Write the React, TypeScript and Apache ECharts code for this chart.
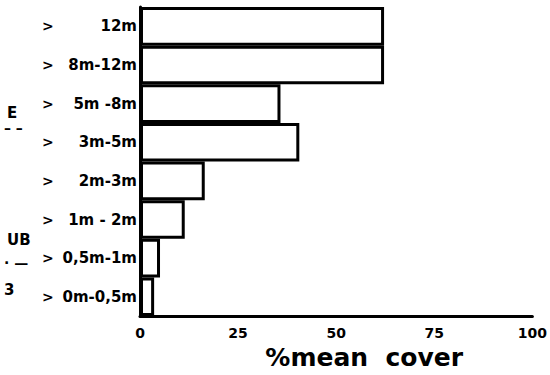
import React, { useEffect, useRef } from "react";
import * as echarts from "echarts";

const categories = ["0m-0,5m", "0,5m-1m", "1m - 2m", "2m-3m", "3m-5m", "5m -8m", "8m-12m", "12m"];
const meanCover = [3.6, 5.1, 11.4, 16.5, 40.6, 35.8, 62.2, 62.2];
const xTicks = [0, 25, 50, 75, 100];

export default function App() {
  const ref = useRef<HTMLDivElement>(null);
  useEffect(() => {
    if (!ref.current) return;
    const chart = echarts.init(ref.current, null, { renderer: "svg" });
    const font = "DejaVu Sans";
    chart.setOption({
      animation: false,
      backgroundColor: "#fff",
      grid: { left: 140, right: 16, top: 7, bottom: 56, containLabel: false },
      xAxis: {
        type: "value",
        min: xTicks[0],
        max: xTicks[xTicks.length - 1],
        interval: 25,
        axisLine: { show: true, lineStyle: { color: "#000", width: 3 } },
        axisTick: { show: false },
        splitLine: { show: false },
        axisLabel: { color: "#000", fontFamily: font, fontWeight: "bold", fontSize: 14, margin: 10 },
        name: "%mean  cover",
        nameLocation: "middle",
        nameGap: 23,
        nameTextStyle: { color: "#000", fontFamily: font, fontWeight: "bold", fontSize: 25, padding: [0, 0, 0, 56] },
      },
      yAxis: {
        type: "category",
        data: categories,
        axisLine: { show: true, lineStyle: { color: "#000", width: 3 } },
        axisTick: { show: false },
        axisLabel: {
          margin: 3,
          formatter: (v: string) => `{g|>}{t|${v}}`,
          rich: {
            g: { width: 12, align: "left", color: "#000", fontFamily: font, fontWeight: "bold", fontSize: 14 },
            t: { width: 83, align: "right", color: "#000", fontFamily: font, fontWeight: "bold", fontSize: 15 },
          },
        },
      },
      series: [
        {
          type: "bar",
          data: meanCover,
          barCategoryGap: "0%",
          clip: false,
          itemStyle: { color: "#fff", borderColor: "#000", borderWidth: 3 },
        },
      ],
      graphic: [
        { type: "text", left: 7, top: 105, style: { text: "E", fill: "#000", font: `bold 15px "${font}"` } },
        { type: "text", left: 4, top: 121, style: { text: "– –", fill: "#000", font: `bold 14px "${font}"` } },
        { type: "text", left: 7, top: 232, style: { text: "UB", fill: "#000", font: `bold 15px "${font}"` } },
        { type: "text", left: 4, top: 256, style: { text: "· —", fill: "#000", font: `bold 14px "${font}"` } },
        { type: "text", left: 4, top: 282, style: { text: "3", fill: "#000", font: `bold 15px "${font}"` } },
      ],
    });
    return () => chart.dispose();
  }, []);
  return <div ref={ref} style={{ width: 550, height: 375, position: "fixed", left: 0, top: 0 }} />;
}
